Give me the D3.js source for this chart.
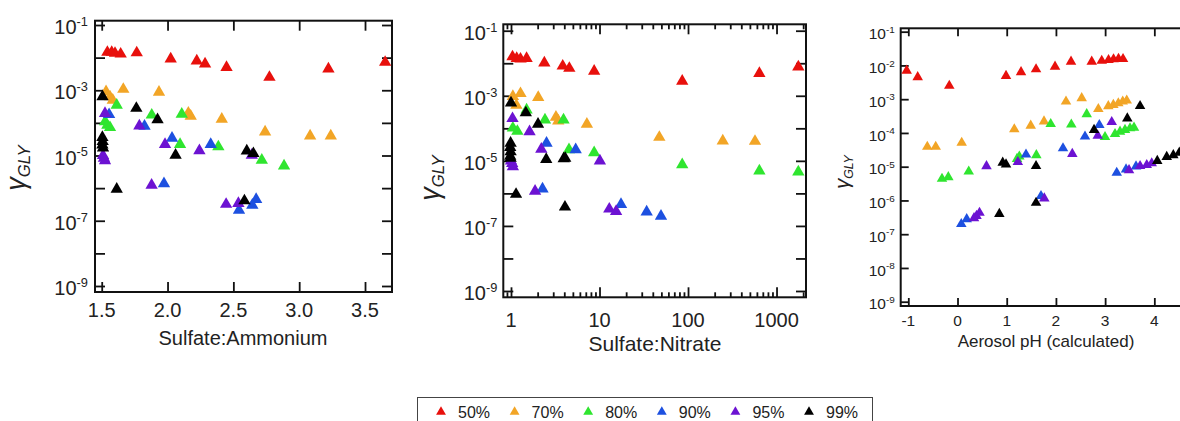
<!DOCTYPE html>
<html><head><meta charset="utf-8">
<script src="https://cdn.jsdelivr.net/npm/d3@7"></script>
<style>
html,body{margin:0;padding:0;background:#fff;}
svg{display:block;font-family:"Liberation Sans",Arial,sans-serif;}
</style></head>
<body>
<svg id="chart" width="1180" height="421"></svg>
<script>
// ---------------- DATA ----------------
const seriesNames = ["50%", "70%", "80%", "90%", "95%", "99%"];
const seriesColors = ["#e8100c", "#f2a526", "#2fe52f", "#1d50e0", "#6c12d2", "#000000"];

// Panel 1: x = Sulfate:Ammonium, y = gamma_GLY
const amm50 = [[1.543,1.46e-2],[1.576,1.46e-2],[1.601,1.36e-2],[1.644,1.29e-2],[1.766,1.41e-2],[2.024,9.1e-3],[2.222,7.9e-3],[2.285,6.4e-3],[2.448,5.0e-3],[2.774,2.5e-3],[3.222,4.5e-3],[3.653,7.2e-3]];
const amm70 = [[1.533,9.0e-4],[1.563,6.3e-4],[1.584,5.0e-4],[1.664,1.07e-3],[1.935,8.7e-4],[2.158,2.0e-4],[2.176,1.6e-4],[2.412,1.3e-4],[2.741,5.3e-5],[3.083,4.0e-5],[3.24,4.0e-5]];
const amm80 = [[1.614,3.5e-4],[1.880,1.74e-4],[2.108,1.86e-4],[1.525,1.08e-4],[1.543,8.5e-5],[1.563,7.2e-5],[2.095,2.2e-5],[2.386,1.85e-5],[2.716,7.2e-6],[2.885,4.8e-6]];
const amm90 = [[1.556,1.8e-4],[1.825,7.9e-5],[2.034,3.4e-5],[2.328,2.2e-5],[1.973,1.38e-6],[2.543,2.1e-7],[2.644,3.0e-7],[2.673,4.5e-7]];
const amm95 = [[1.525,1.95e-4],[1.786,8.1e-5],[1.981,2.2e-5],[2.242,1.4e-5],[2.640,1.02e-5],[1.51,1.0e-5],[1.517,8.3e-6],[1.525,6.9e-6],[1.879,1.23e-6],[2.445,3.2e-7],[2.538,3.4e-7]];
const amm99 = [[1.506,6.4e-4],[1.763,2.8e-4],[1.924,1.26e-4],[2.061,1.02e-5],[2.602,1.38e-5],[2.652,1.15e-5],[1.505,3.6e-5],[1.507,2.7e-5],[1.505,2.1e-5],[1.51,1.7e-5],[1.614,9.3e-7],[2.584,4.1e-7]];

// Panel 2: x = Sulfate:Nitrate (log)
const nit50 = [[1.04,1.58e-2],[1.16,1.41e-2],[1.28,1.35e-2],[1.50,1.41e-2],[2.38,1.03e-2],[3.84,8.2e-3],[4.56,7.0e-3],[8.7,5.7e-3],[86,2.8e-3],[640,4.9e-3],[1763,7.7e-3]];
const nit70 = [[1.05,9.6e-4],[1.15,5.1e-4],[1.28,1.17e-3],[2.03,8.9e-4],[3.22,2.2e-4],[3.42,1.7e-4],[7.2,1.35e-4],[47.4,5.3e-5],[247,4.1e-5],[571,4.0e-5]];
const nit80 = [[1.50,3.7e-4],[2.42,1.82e-4],[3.92,1.82e-4],[1.05,1.02e-4],[1.18,8.1e-5],[4.52,2.2e-5],[8.7,1.78e-5],[86,7.6e-6],[640,4.9e-6],[1763,4.6e-6]];
const nit90 = [[2.52,3.5e-5],[5.38,2.2e-5],[2.27,1.37e-6],[17.5,4.6e-7],[34.1,2.7e-7],[49.5,2.0e-7]];
const nit95 = [[1.04,2.0e-4],[1.62,7.9e-5],[2.2,2.3e-5],[10.1,1.0e-5],[1.0,1.0e-5],[1.03,8.3e-6],[1.05,6.6e-6],[1.87,1.17e-6],[12.9,3.3e-7],[15.4,2.8e-7]];
const nit99 = [[1.0,6.0e-4],[1.47,3.0e-4],[2.02,1.35e-4],[0.99,3.5e-5],[0.98,2.6e-5],[0.99,1.9e-5],[0.98,1.4e-5],[0.99,1.2e-5],[2.5,1.1e-5],[3.94,1.17e-5],[4.1,1.2e-5],[1.14,9.4e-7],[4.07,3.8e-7]];

// Panel 3: x = Aerosol pH (calculated)
const ph50 = [[-1.033,7.0e-3],[-0.809,4.5e-3],[-0.167,2.5e-3],[0.986,4.9e-3],[1.291,6.3e-3],[1.596,7.7e-3],[1.982,9.2e-3],[2.307,1.29e-2],[2.728,1.29e-2],[2.931,1.38e-2],[3.069,1.45e-2],[3.171,1.52e-2],[3.272,1.58e-2],[3.364,1.55e-2]];
const ph70 = [[-0.614,3.9e-5],[-0.443,3.9e-5],[0.085,5.1e-5],[1.154,1.29e-4],[1.488,1.64e-4],[1.758,2.2e-4],[2.205,8.5e-4],[2.524,1.07e-3],[2.862,5.1e-4],[3.065,6.2e-4],[3.167,6.8e-4],[3.268,7.6e-4],[3.358,8.5e-4],[3.439,9.1e-4]];
const ph80 = [[-0.315,4.4e-6],[-0.187,4.9e-6],[0.228,7.2e-6],[1.21,1.7e-5],[1.256,2.0e-5],[1.602,2.2e-5],[1.894,1.84e-4],[2.313,1.78e-4],[2.626,3.6e-4],[2.998,7.6e-5],[3.201,9.3e-5],[3.303,1.09e-4],[3.404,1.23e-4],[3.506,1.38e-4],[3.587,1.44e-4]];
const ph90 = [[0.077,2.0e-7],[0.187,2.8e-7],[1.392,2.3e-5],[1.697,1.35e-6],[2.144,3.5e-5],[2.591,7.8e-5],[2.882,1.72e-4],[3.236,6.6e-6],[3.425,8.3e-6],[3.628,1.02e-5]];
const ph95 = [[0.589,1.04e-5],[1.226,1.37e-5],[0.335,3.0e-7],[0.386,3.5e-7],[0.447,4.3e-7],[1.764,1.15e-6],[2.333,2.4e-5],[2.85,8.3e-5],[3.134,2.1e-4],[3.486,7.9e-6],[3.71,1.05e-5],[3.846,1.12e-5],[3.947,1.26e-5]];
const ph99 = [[0.919,1.32e-5],[0.986,1.17e-5],[1.596,1.05e-5],[2.775,1.23e-4],[3.451,2.7e-4],[3.71,6.3e-4],[0.85,4.0e-7],[1.596,8.5e-7],[4.06,1.48e-5],[4.252,1.95e-5],[4.386,2.2e-5],[4.508,2.6e-5]];

// Tick values / labels
const ammXTicks = [1.5, 2.0, 2.5, 3.0, 3.5];
const nitXTicks = [1, 10, 100, 1000];
const phXTicks = [-1, 0, 1, 2, 3, 4];
const decadeExps = [-1, -2, -3, -4, -5, -6, -7, -8, -9];
const oddLabelExps = [-1, -3, -5, -7, -9];
const xTitles = ["Sulfate:Ammonium", "Sulfate:Nitrate", "Aerosol pH (calculated)"];

// ---------------- DRAW ----------------
const svg = d3.select("#chart");
svg.append("rect").attr("width", 1180).attr("height", 421).attr("fill", "#fff");

function drawPanel(o) {
  const g = svg.append("g");
  const x = o.x, y = o.y;
  const L = x.range()[0], R = x.range()[1], B = y.range()[0], T = y.range()[1];
  const tickCol = "#111";

  const yVals = decadeExps.map(e => Math.pow(10, e));
  g.append("g").attr("transform", `translate(${L},0)`)
    .call(d3.axisLeft(y).tickValues(yVals).tickSizeInner(-o.tick).tickSizeOuter(0).tickFormat(""));
  g.append("g").attr("transform", `translate(${R},0)`)
    .call(d3.axisRight(y).tickValues(yVals).tickSizeInner(-o.tick).tickSizeOuter(0).tickFormat(""));
  g.append("g").attr("transform", `translate(0,${B})`)
    .call(d3.axisBottom(x).tickValues(o.xTicks).tickSizeInner(-o.tick).tickSizeOuter(0).tickFormat(""));
  g.append("g").attr("transform", `translate(0,${T})`)
    .call(d3.axisTop(x).tickValues(o.xTicks).tickSizeInner(-o.tick).tickSizeOuter(0).tickFormat(""));
  if (o.minor) {
    g.append("g").attr("transform", `translate(0,${B})`)
      .call(d3.axisBottom(x).tickValues(o.minor).tickSizeInner(-o.tick / 2).tickSizeOuter(0).tickFormat(""));
    g.append("g").attr("transform", `translate(0,${T})`)
      .call(d3.axisTop(x).tickValues(o.minor).tickSizeInner(-o.tick / 2).tickSizeOuter(0).tickFormat(""));
  }
  g.selectAll(".domain").remove();
  g.selectAll(".tick line").attr("stroke", tickCol).attr("stroke-width", 1.8);

  g.append("rect").attr("x", L).attr("y", T).attr("width", R - L).attr("height", B - T)
    .attr("fill", "none").attr("stroke", "#111").attr("stroke-width", 2);

  const yLabs = g.append("g").attr("font-size", o.fs).attr("fill", "#222");
  o.yLabelExps.forEach(e => {
    const t = yLabs.append("text").attr("x", L - o.yLabGap).attr("y", y(Math.pow(10, e)) + o.fs * 0.36 + 2)
      .attr("text-anchor", "end");
    t.append("tspan").text("10");
    t.append("tspan").attr("font-size", o.fs * 0.64).attr("dy", -o.fs * 0.42).text("-" + Math.abs(e));
  });

  g.append("g").attr("font-size", o.fs).attr("fill", "#222")
    .selectAll("text").data(o.xLabelTicks).join("text")
    .attr("x", d => x(d)).attr("y", o.xLabY).attr("text-anchor", "middle")
    .text(o.xFmt);

  g.append("text").attr("x", o.titleX).attr("y", o.titleY).attr("text-anchor", "middle")
    .attr("font-size", o.titleFs).attr("fill", "#222").text(o.title);

  const yt = g.append("text").attr("transform", `translate(${o.yTitleX},${o.yTitleY}) rotate(-90)`)
    .attr("text-anchor", "middle").attr("fill", "#222").attr("font-style", "italic");
  yt.append("tspan").attr("font-size", o.gammaFs).text("γ");
  yt.append("tspan").attr("font-size", o.gammaFs * 0.62).attr("dy", o.gammaFs * 0.18).text("GLY");

  const clipId = "clip" + o.id;
  svg.append("clipPath").attr("id", clipId).append("rect")
    .attr("x", L).attr("y", T).attr("width", R - L).attr("height", B - T);
  const sym = d3.symbol().type(d3.symbolTriangle).size(o.sym);
  const pg = g.append("g").attr("clip-path", `url(#${clipId})`);
  o.series.forEach((arr, i) => {
    pg.append("g").selectAll("path").data(arr).join("path")
      .attr("transform", d => `translate(${x(d[0])},${y(d[1])})`)
      .attr("d", sym).attr("fill", seriesColors[i]);
  });
}

drawPanel({
  id: 1,
  x: d3.scaleLinear().domain([1.449, 3.705]).range([95, 392]),
  y: d3.scaleLog().domain([Math.pow(10, -9.184), Math.pow(10, -0.868)]).range([292, 20.7]),
  xTicks: ammXTicks, xLabelTicks: ammXTicks, xFmt: d3.format(".1f"),
  yLabelExps: oddLabelExps, tick: 10, fs: 20, yLabGap: 7, xLabY: 317,
  title: xTitles[0], titleX: 243, titleY: 345, titleFs: 20,
  yTitleX: 25, yTitleY: 168, gammaFs: 27, sym: 66,
  series: [amm50, amm70, amm80, amm90, amm95, amm99]
});

const nitMinor = [];
[0.1, 1, 10, 100, 1000].forEach(b => { for (let k = 2; k <= 9; k++) nitMinor.push(b * k); });
drawPanel({
  id: 2,
  x: d3.scaleLog().domain([Math.pow(10, -0.087), Math.pow(10, 3.333)]).range([503.3, 806]),
  y: d3.scaleLog().domain([Math.pow(10, -9.194), Math.pow(10, -0.803)]).range([297.3, 24.3]),
  xTicks: nitXTicks, minor: nitMinor.filter(v => v > 0.82 && v < 2150), xLabelTicks: nitXTicks, xFmt: d => String(d),
  yLabelExps: oddLabelExps, tick: 10, fs: 20, yLabGap: 6, xLabY: 327,
  title: xTitles[1], titleX: 655, titleY: 351, titleFs: 21,
  yTitleX: 439, yTitleY: 178, gammaFs: 27, sym: 66,
  series: [nit50, nit70, nit80, nit90, nit95, nit99]
});

drawPanel({
  id: 3,
  x: d3.scaleLinear().domain([-1.1545, 5.8]).range([900.7, 1242.9]),
  y: d3.scaleLog().domain([Math.pow(10, -9.127), Math.pow(10, -0.9)]).range([306, 28.3]),
  xTicks: phXTicks, xLabelTicks: phXTicks, xFmt: d => String(d),
  yLabelExps: decadeExps, tick: 8, fs: 15.5, yLabGap: 6, xLabY: 326,
  title: xTitles[2], titleX: 1046, titleY: 347, titleFs: 17,
  yTitleX: 849, yTitleY: 172, gammaFs: 20, sym: 48,
  series: [ph50, ph70, ph80, ph90, ph95, ph99]
});

const leg = svg.append("g");
leg.append("rect").attr("x", 417.5).attr("y", 397.5).attr("width", 455).attr("height", 40)
  .attr("fill", "#fff").attr("stroke", "#444").attr("stroke-width", 1);
const legSym = d3.symbol().type(d3.symbolTriangle).size(42);
seriesNames.forEach((name, i) => {
  const tx = 458 + i * 73.6;
  leg.append("path").attr("transform", `translate(${tx - 17},${412})`).attr("d", legSym).attr("fill", seriesColors[i]);
  leg.append("text").attr("x", tx).attr("y", 417.5).attr("font-size", 16).attr("fill", "#222").text(name);
});
</script>
</body></html>
